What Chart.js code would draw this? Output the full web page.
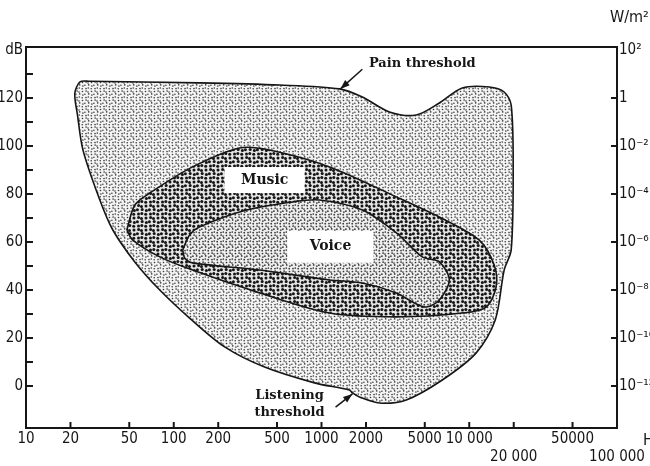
<!DOCTYPE html>
<html>
<head>
<meta charset="utf-8">
<script src="https://cdn.jsdelivr.net/npm/chart.js@4.4.1/dist/chart.umd.min.js"></script>
<style>
    html, body { margin: 0; padding: 0; background: #fff; }
    #wrap { width: 650px; height: 466px; }
</style>
</head>
<body>
<div id="wrap"><canvas id="chart" width="650" height="466"></canvas></div>
<script>
// Hearing area (pain threshold on top, listening threshold below), clockwise
const hearingHz = [27, 150, 520, 1324, 1890, 2880, 4380, 6270, 8970, 13650, 17230, 19230, 19830, 19230, 17230,
    15000, 11150, 6570, 3750, 2465, 1806, 1620, 1546, 897, 412, 221, 128, 80.4, 54.5, 38.7, 31.6, 24.3, 22.3, 21.4, 23.2, 27];
const hearingDb = [127, 126.3, 125.4, 123.8, 120.4, 114.2, 112.9, 117.9, 124.2, 124.6, 122.5, 117, 90, 56.7, 48.3,
    27.5, 13.8, 2.5, -5.8, -7.1, -4.6, -2.9, -1.7, 1.3, 7.9, 16.3, 28.3, 40, 51.7, 65, 77.5, 98.3, 113, 122, 126.7, 127];

// Music area
const musicHz = [48.1, 54.5, 68.8, 134, 279, 445, 1133, 3210, 6270, 11690, 14750, 15200, 13030, 8970, 3210, 1133, 381, 134, 80.4, 52.8, 48.1];
const musicDb = [65, 75.4, 80.4, 91.3, 99.2, 98.3, 91.3, 78.8, 70.4, 60.8, 50.4, 41.3, 32.9, 30.4, 28.8, 30.4, 38.8, 48.3, 53.8, 60.8, 65];

// Voice area
const voiceHz = [115, 128, 150, 311, 637, 969, 1890, 3210, 4810, 6270, 7330, 6270, 5120, 4250, 3210, 1890, 1133, 381, 134, 118.6, 115];
const voiceDb = [56.7, 62.9, 66.3, 73.3, 76.7, 77.5, 73.3, 63.8, 53.8, 51.7, 44.2, 35.8, 32.9, 34.6, 38.8, 42.9, 44.2, 48.3, 51.3, 53.3, 56.7];

// Axes
const xTicks = [10, 20, 50, 100, 200, 500, 1000, 2000, 5000, 10000, 20000, 50000, 100000];
const xTickLabels = ['10', '20', '50', '100', '200', '500', '1000', '2000', '5000', '10 000', ['', '20 000'], '50000', ['', '100 000']];
const dbTicks = [0, 10, 20, 30, 40, 50, 60, 70, 80, 90, 100, 110, 120, 130, 140];
const wTicks = [0, 20, 40, 60, 80, 100, 120, 140];
const wTickLabels = ['10\u207B\u00B9\u00B2', '10\u207B\u00B9\u2070', '10\u207B\u2078', '10\u207B\u2076', '10\u207B\u2074', '10\u207B\u00B2', '1', '10\u00B2'];

// Labels placed in data coordinates [Hz, dB]
const areaLabels = [
    { text: 'Music', at: [412, 85.8], box: [80, 26] },
    { text: 'Voice', at: [1150, 58], box: [86, 32] }
];
const painText = { lines: ['Pain threshold'], at: [4810, 134.2], from: [1890, 132], to: [1343, 123.8] };
const listenText = { lines: ['Listening', 'threshold'], at: [608, -4], from: [1245, -8.8], to: [1620, -3.3] };

const toPts = (hz, db) => hz.map((h, i) => ({ x: h, y: db[i] }));

// stipple texture: dots on a slightly jittered grid
const jitter = [[0, 0], [0.6, -0.4], [-0.5, 0.5], [0.4, 0.6], [-0.6, -0.3], [0.2, -0.6], [-0.3, 0.2], [0.5, 0.1], [-0.2, -0.5]];
function stipple(pitch, radius, color, bg) {
    const n = 3, size = pitch * n;
    const c = document.createElement('canvas');
    c.width = size; c.height = size;
    const g = c.getContext('2d');
    g.fillStyle = bg;
    g.fillRect(0, 0, size, size);
    g.fillStyle = color;
    for (let r = 0; r < n; r++) {
        for (let k = 0; k < n; k++) {
            const [jx, jy] = jitter[r * n + k];
            g.beginPath();
            g.arc(k * pitch + pitch / 2 + jx, r * pitch + pitch / 2 + jy, radius, 0, Math.PI * 2);
            g.fill();
        }
    }
    return g.createPattern(c, 'repeat');
}

const ink = '#161616';
const tickFont = { family: '"Liberation Sans Narrow", "DejaVu Sans Condensed", "Liberation Sans", sans-serif', size: 15 };

function line(ctx, x1, y1, x2, y2) {
    ctx.beginPath(); ctx.moveTo(x1, y1); ctx.lineTo(x2, y2); ctx.stroke();
}

function arrow(ctx, from, to) {
    line(ctx, from[0], from[1], to[0], to[1]);
    const a = Math.atan2(to[1] - from[1], to[0] - from[0]);
    ctx.beginPath();
    ctx.moveTo(to[0], to[1]);
    ctx.lineTo(to[0] - 10 * Math.cos(a - 0.35), to[1] - 10 * Math.sin(a - 0.35));
    ctx.lineTo(to[0] - 10 * Math.cos(a + 0.35), to[1] - 10 * Math.sin(a + 0.35));
    ctx.closePath();
    ctx.fill();
}

const decorPlugin = {
    id: 'decor',
    afterDraw(chart) {
        const ctx = chart.ctx;
        const { left, right, top, bottom } = chart.chartArea;
        const x = chart.scales.x, y = chart.scales.y;
        const px = p => [x.getPixelForValue(p[0]), y.getPixelForValue(p[1])];
        ctx.save();
        ctx.strokeStyle = ink;
        ctx.fillStyle = ink;
        ctx.lineWidth = 2;
        line(ctx, left, top, right + 1, top);

        // inward tick marks
        xTicks.slice(1, -1).forEach(v => {
            const p = x.getPixelForValue(v);
            line(ctx, p, bottom, p, bottom - 6);
        });
        dbTicks.slice(0, -1).forEach(v => {
            const p = y.getPixelForValue(v);
            line(ctx, left, p, left + 7, p);
        });
        wTicks.slice(0, -1).forEach(v => {
            const p = y.getPixelForValue(v);
            line(ctx, right - 6, p, right, p);
        });

        // unit labels
        ctx.font = '16px ' + tickFont.family;
        ctx.textBaseline = 'alphabetic';
        ctx.textAlign = 'left';
        ctx.fillText('W/m\u00B2', 610, 22);
        ctx.fillText('Hz', 643, 445);

        // area labels in white boxes
        ctx.font = 'bold 14px "DejaVu Serif", serif';
        ctx.textAlign = 'center';
        ctx.textBaseline = 'middle';
        areaLabels.forEach(l => {
            const [cx, cy] = px(l.at);
            ctx.fillStyle = '#fff';
            ctx.fillRect(cx - l.box[0] / 2, cy - l.box[1] / 2, l.box[0], l.box[1]);
            ctx.fillStyle = ink;
            ctx.fillText(l.text, cx, cy);
        });

        // threshold notes with arrows
        ctx.font = 'bold 13px "DejaVu Serif", serif';
        ctx.lineWidth = 1.5;
        [painText, listenText].forEach(n => {
            const [cx, cy] = px(n.at);
            n.lines.forEach((t, i) => ctx.fillText(t, cx, cy + i * 17));
            arrow(ctx, px(n.from), px(n.to));
        });
        ctx.restore();
    }
};

new Chart(document.getElementById('chart'), {
    type: 'line',
    data: {
        datasets: [
            {
                label: 'Hearing area',
                data: toPts(hearingHz, hearingDb),
                fill: 'shape',
                backgroundColor: stipple(3, 0.8, '#3a3a3a', '#f4f4f4'),
                borderColor: ink,
                borderWidth: 1.6,
                pointRadius: 0,
                tension: 0.3,
                order: 3
            },
            {
                label: 'Music',
                data: toPts(musicHz, musicDb),
                fill: 'shape',
                backgroundColor: stipple(4, 1.5, '#151515', '#e4e4e4'),
                borderColor: ink,
                borderWidth: 1.6,
                pointRadius: 0,
                tension: 0.3,
                order: 2
            },
            {
                label: 'Voice',
                data: toPts(voiceHz, voiceDb),
                fill: 'shape',
                backgroundColor: stipple(3, 0.85, '#333', '#eeeeee'),
                borderColor: ink,
                borderWidth: 1.6,
                pointRadius: 0,
                tension: 0.3,
                order: 1
            }
        ]
    },
    options: {
        responsive: false,
        animation: false,
        layout: { padding: { top: 47, left: 0, right: 0, bottom: 0 } },
        plugins: { legend: { display: false }, tooltip: { enabled: false } },
        scales: {
            x: {
                type: 'logarithmic',
                min: 10, max: 100000,
                afterBuildTicks: s => { s.ticks = xTicks.map(v => ({ value: v })); },
                afterFit: s => { s.height = 38; },
                grid: { display: false, drawTicks: false },
                border: { display: true, color: ink, width: 2 },
                ticks: {
                    autoSkip: false, maxRotation: 0, padding: 2,
                    color: ink, font: tickFont,
                    callback: (v, i) => xTickLabels[i]
                }
            },
            y: {
                type: 'linear', position: 'left',
                min: -17.5, max: 141.25,
                afterBuildTicks: s => { s.ticks = dbTicks.map(v => ({ value: v })); },
                afterFit: s => { s.width = 26; },
                grid: { display: false, drawTicks: false },
                border: { display: true, color: ink, width: 2 },
                ticks: {
                    padding: 3, color: ink, font: tickFont,
                    callback: v => v === 140 ? 'dB' : (v % 20 === 0 ? String(v) : '')
                }
            },
            y2: {
                type: 'linear', position: 'right',
                min: -17.5, max: 141.25,
                afterBuildTicks: s => { s.ticks = wTicks.map(v => ({ value: v })); },
                afterFit: s => { s.width = 33; },
                grid: { display: false, drawTicks: false },
                border: { display: true, color: ink, width: 2 },
                ticks: {
                    padding: 2, color: ink, font: tickFont,
                    callback: (v, i) => wTickLabels[i]
                }
            }
        }
    },
    plugins: [decorPlugin]
});
</script>
</body>
</html>
